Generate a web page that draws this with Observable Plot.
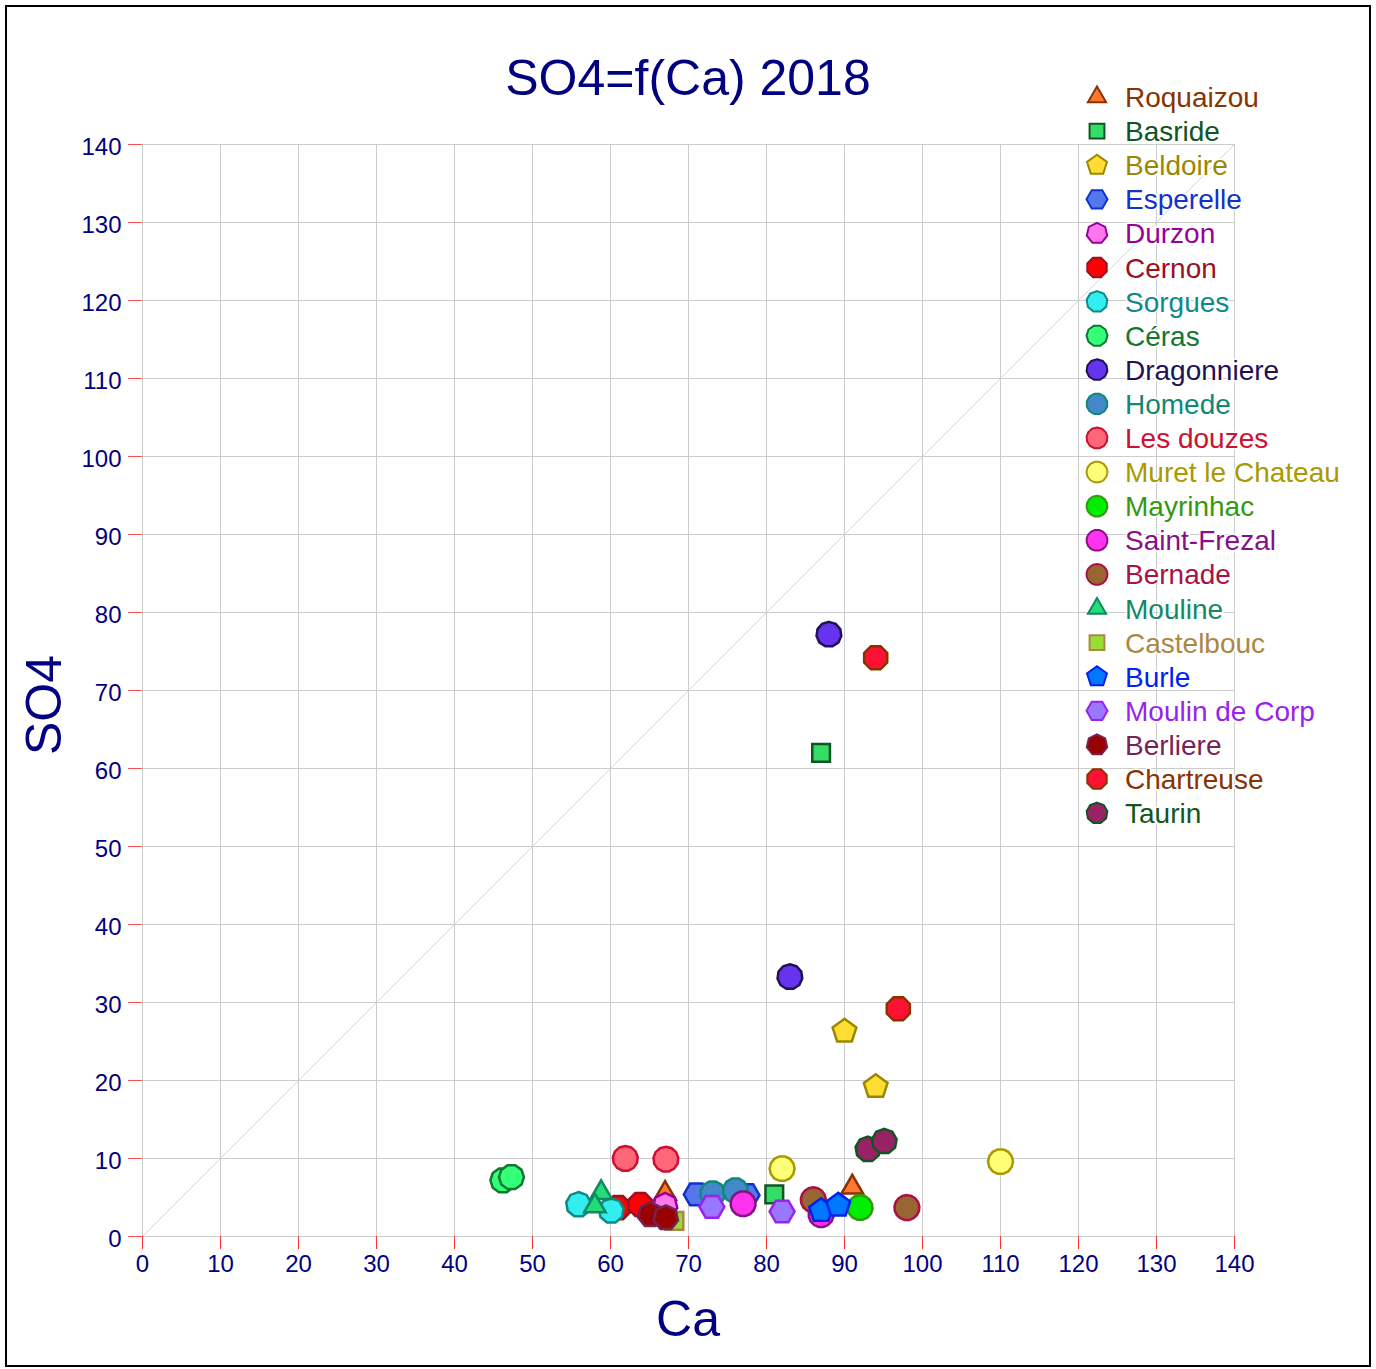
<!DOCTYPE html>
<html>
<head>
<meta charset="utf-8">
<script src="https://cdn.jsdelivr.net/npm/d3@7"></script>
<script src="https://cdn.jsdelivr.net/npm/@observablehq/plot@0.6"></script>
<style>
  html, body { margin: 0; padding: 0; background: #fff; }
  #chart svg { display: block; }
</style>
</head>
<body>
<div id="chart"></div>
<script>
// ---------- data ----------
const stations = ["Roquaizou", "Basride", "Beldoire", "Esperelle", "Durzon", "Cernon", "Sorgues", "Céras",
  "Dragonniere", "Homede", "Les douzes", "Muret le Chateau", "Mayrinhac", "Saint-Frezal", "Bernade",
  "Mouline", "Castelbouc", "Burle", "Moulin de Corp", "Berliere", "Chartreuse", "Taurin"];

const caValues = [
  [67, 91], [87, 81], [90, 94], [71, 77.5], [67], [61, 63.8], [55.9, 60.1], [46.2, 47.3],
  [88, 83], [73.1, 76], [61.9, 67.1], [82, 110], [92], [77, 87], [86, 98],
  [58.8, 58], [68.2], [87, 89.2], [73, 82], [65.1, 67.1], [94, 96.9], [93, 95.1]
];
const so4Values = [
  [5.5, 6.3], [62, 5.4], [26.3, 19.2], [5.4, 5.3], [4.0], [3.7, 4.1], [4.1, 3.3], [7.2, 7.6],
  [77.2, 33.3], [5.5, 5.9], [10, 9.9], [8.7, 9.6], [3.7], [4.2, 2.8], [4.7, 3.7],
  [5.6, 3.9], [2.0], [3.3, 4.0], [3.8, 3.2], [2.8, 2.4], [74.2, 29.2], [11.2, 12.2]
];
const ticks = [0, 10, 20, 30, 40, 50, 60, 70, 80, 90, 100, 110, 120, 130, 140];
const domain = [0, 140];
const titleText = "SO4=f(Ca) 2018";
const xLabel = "Ca";
const yLabel = "SO4";

// ---------- styles ----------
const fills = ["#ff7733", "#33dd66", "#ffdd33", "#5577ee", "#ff77ee", "#ff0000", "#33eeee", "#33ff77",
  "#6633ee", "#4488cc", "#ff6677", "#ffff77", "#00ee00", "#ff33ee", "#996633",
  "#22dd77", "#99dd33", "#0077ff", "#9977ff", "#990000", "#ff1133", "#992266"];
const strokes = ["#883300", "#115522", "#998800", "#1133cc", "#990099", "#991122", "#118888", "#117733",
  "#221155", "#118877", "#cc1133", "#aa9900", "#339911", "#881188", "#aa1144",
  "#118866", "#aa8844", "#0022ee", "#9922ee", "#772255", "#883300", "#115522"];
const sides = [3, 4, 5, 6, 7, 8, 9, 10, 11, 12, 13, 14, 15, 16, 17, 3, 4, 5, 6, 7, 8, 9];

function polygonSymbol(n) {
  return {
    draw(ctx, size) {
      const r = Math.sqrt(size / Math.PI);
      const off = n % 2 === 0 ? Math.PI / n : 0;
      for (let k = 0; k < n; k++) {
        const a = -Math.PI / 2 + off + 2 * Math.PI * k / n;
        const px = r * Math.cos(a), py = r * Math.sin(a);
        if (k === 0) ctx.moveTo(px, py); else ctx.lineTo(px, py);
      }
      ctx.closePath();
    }
  };
}

// ---------- table ----------
const rows = stations.map((s, i) => caValues[i].map((ca, j) => ({station: s, idx: i, ca, so4: so4Values[i][j]})));

const navy = "#000080";
const W = 1376, H = 1369;

const plot = Plot.plot({
  width: W,
  height: H,
  marginLeft: 142,
  marginRight: 142,
  marginTop: 144,
  marginBottom: 133,
  style: {fontFamily: "'Liberation Sans', Arial, sans-serif", fontSize: "24px", background: "#fff"},
  x: {domain, axis: null},
  y: {domain, axis: null},
  marks: [
    Plot.gridX(ticks, {stroke: "#cccccc", strokeOpacity: 1, strokeWidth: 1}),
    Plot.gridY(ticks, {stroke: "#cccccc", strokeOpacity: 1, strokeWidth: 1}),
    Plot.line(domain, {x: d => d, y: d => d, stroke: "#d6d6d6", strokeWidth: 1}),
    Plot.axisX(ticks, {tickSize: 13, tickPadding: 5, stroke: "#ff3030", fill: navy, label: null, fontSize: 24}),
    Plot.axisY(ticks, {tickSize: 14, tickFormat: () => "", stroke: "#ff5050", label: null}),
    Plot.axisY(ticks, {tickSize: 0, tickPadding: 21, fill: navy, label: null, fontSize: 24, dy: 3}),
    ...rows.map((data, i) => Plot.dot(data, {
      x: "ca", y: "so4", r: 12.5,
      symbol: polygonSymbol(sides[i]),
      fill: fills[i], stroke: strokes[i], strokeWidth: 2.5
    }))
  ]
});

document.getElementById("chart").appendChild(plot);

// ---------- overlay text (title, labels, legend, frame) ----------
const svg = d3.select(plot);
const font = "'Liberation Sans', Arial, sans-serif";

svg.append("text")
  .attr("x", 688).attr("y", 95)
  .attr("text-anchor", "middle")
  .attr("font-family", font).attr("font-size", 50)
  .attr("fill", navy)
  .text(titleText);

svg.append("text")
  .attr("x", 688).attr("y", 1336)
  .attr("text-anchor", "middle")
  .attr("font-family", font).attr("font-size", 50)
  .attr("fill", navy)
  .text(xLabel);

svg.append("text")
  .attr("transform", "translate(61,705) rotate(-90)")
  .attr("text-anchor", "middle")
  .attr("font-family", font).attr("font-size", 50)
  .attr("fill", navy)
  .text(yLabel);

const legend = svg.append("g").attr("text-anchor", "start");
stations.forEach((s, i) => {
  const cy = 97 + 34.1 * i;
  const p = d3.path();
  polygonSymbol(sides[i]).draw(p, 10.5 * 10.5 * Math.PI);
  legend.append("path")
    .attr("transform", `translate(1097,${cy})`)
    .attr("d", p.toString())
    .attr("fill", fills[i])
    .attr("stroke", strokes[i])
    .attr("stroke-width", 2);
  legend.append("text")
    .attr("x", 1125).attr("y", cy).attr("dy", "0.36em")
    .attr("text-anchor", "start")
    .attr("font-family", font).attr("font-size", 28)
    .attr("fill", strokes[i])
    .attr("stroke", "#fff").attr("stroke-width", 3)
    .attr("paint-order", "stroke")
    .text(s);
});

svg.append("rect")
  .attr("x", 6).attr("y", 6)
  .attr("width", 1364).attr("height", 1360)
  .attr("fill", "none")
  .attr("stroke", "#000").attr("stroke-width", 2);
</script>
</body>
</html>
